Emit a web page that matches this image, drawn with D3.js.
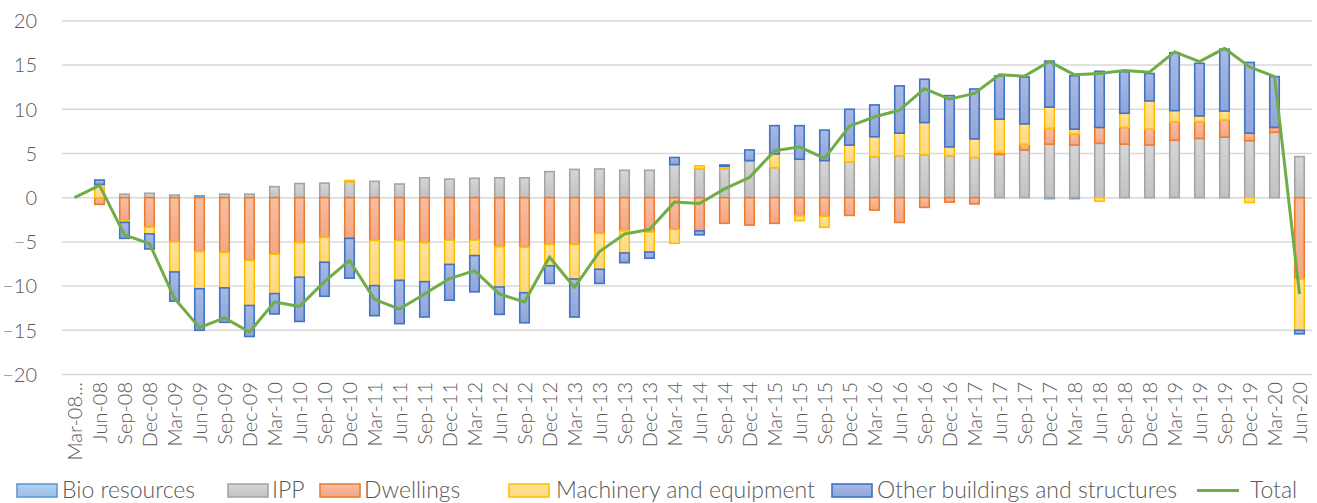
<!DOCTYPE html>
<html><head><meta charset="utf-8">
<script src="https://cdnjs.cloudflare.com/ajax/libs/d3/7.8.5/d3.min.js"></script>
<style>
html,body{margin:0;padding:0;background:#fff;}
svg{display:block;}
text{font-family:Lato,"Open Sans",sans-serif;fill:#595959;font-weight:300;}
</style></head>
<body>
<svg id="chart" width="1317" height="503"></svg>
<script>
const categories = ["Mar-08...","Jun-08","Sep-08","Dec-08","Mar-09","Jun-09","Sep-09","Dec-09","Mar-10","Jun-10","Sep-10","Dec-10","Mar-11","Jun-11","Sep-11","Dec-11","Mar-12","Jun-12","Sep-12","Dec-12","Mar-13","Jun-13","Sep-13","Dec-13","Mar-14","Jun-14","Sep-14","Dec-14","Mar-15","Jun-15","Sep-15","Dec-15","Mar-16","Jun-16","Sep-16","Dec-16","Mar-17","Jun-17","Sep-17","Dec-17","Mar-18","Jun-18","Sep-18","Dec-18","Mar-19","Jun-19","Sep-19","Dec-19","Mar-20","Jun-20"];

const bioResources = [0,0,0,0,0,0.2,0,0,0,0,0,0,0,0,0,0,0,0,0,0,0,0,0,0,0,0,0,0,0,0,0,0,0,0,0,0,0,0,0,-0.1,-0.1,0,0,0,0,0,0,0,0,0];
const ipp = [0,0,0.4,0.5,0.3,0,0.4,0.4,1.25,1.6,1.65,1.8,1.85,1.55,2.25,2.1,2.2,2.25,2.25,2.95,3.2,3.25,3.1,3.1,3.75,3.25,3.3,4.15,3.4,4.35,4.2,4.05,4.65,4.75,4.85,4.75,4.55,4.9,5.4,6.05,5.95,6.15,6.05,5.95,6.5,6.7,6.85,6.45,7.4,4.65];
const dwellings = [0,-0.75,-2.6,-3.35,-5.0,-6.1,-6.2,-7.1,-6.4,-5.1,-4.5,-4.6,-4.85,-4.85,-5.1,-4.8,-4.8,-5.55,-5.6,-5.3,-5.3,-4.05,-3.75,-3.9,-3.6,-3.75,-2.9,-3.1,-2.9,-2.05,-2.1,-2.0,-1.4,-2.8,-1.1,-0.5,-0.7,0.23,0.65,1.8,1.25,1.8,1.9,1.8,2.1,1.9,1.95,0.85,0.55,-9.2];
const machinery = [0,1.5,-0.2,-0.75,-3.4,-4.2,-4.0,-5.1,-4.45,-3.9,-2.8,0.15,-5.1,-4.5,-4.4,-2.75,-1.75,-4.55,-5.15,-2.4,-3.9,-4.05,-2.5,-2.25,-1.55,0.35,0.25,0.05,1.55,-0.55,-1.25,1.9,2.25,2.55,3.65,1.0,2.1,3.75,2.3,2.4,0.55,-0.4,1.6,3.2,1.25,0.65,1.0,-0.55,0,-5.8];
const otherBuildings = [0,0.5,-1.8,-1.7,-3.3,-4.7,-3.9,-3.5,-2.3,-5.0,-3.85,-4.5,-3.4,-4.9,-4.0,-4.05,-4.1,-3.1,-3.4,-2.0,-4.3,-1.6,-1.1,-0.7,0.8,-0.45,0.15,1.2,3.2,3.8,3.45,4.05,3.6,5.35,4.9,5.8,5.65,4.9,5.3,5.2,6.05,6.35,4.7,3.1,6.55,5.95,7.0,8.0,5.75,-0.4];
const total = [0,1.4,-4.2,-5.2,-11.4,-14.7,-13.6,-15.2,-11.8,-12.3,-9.5,-7.1,-11.5,-12.6,-10.9,-9.15,-8.25,-10.9,-11.8,-6.7,-10.15,-6.1,-4.1,-3.6,-0.5,-0.65,1.0,2.3,5.3,5.75,4.45,8.1,9.15,9.9,12.35,11.15,11.8,13.9,13.75,15.4,13.9,14.05,14.4,14.2,16.5,15.4,16.9,14.8,13.7,-10.9];
const yTicks = [-20,-15,-10,-5,0,5,10,15,20];

const seriesNames = ["Bio resources","IPP","Dwellings","Machinery and equipment","Other buildings and structures"];
const seriesValues = [bioResources, ipp, dwellings, machinery, otherBuildings];
const styles = [
  {stroke:"#5B9BD5", top:"#B4D0EE", bot:"#9DC0E6"},
  {stroke:"#A5A5A5", top:"#D6D6D6", bot:"#C2C2C2"},
  {stroke:"#ED7D31", top:"#F8BEA2", bot:"#F4A684"},
  {stroke:"#FFC000", top:"#FFE3A0", bot:"#FFD77D"},
  {stroke:"#4472C4", top:"#A8B9E4", bot:"#8EA5DA"}
];

const svg = d3.select("#chart");
const defs = svg.append("defs");
styles.forEach((s,i)=>{
  const g = defs.append("linearGradient").attr("id","g"+i).attr("x1",0).attr("y1",0).attr("x2",0).attr("y2",1);
  g.append("stop").attr("offset","0%").attr("stop-color",s.top);
  g.append("stop").attr("offset","100%").attr("stop-color",s.bot);
});

const x = d3.scaleBand().domain(categories).range([62,1312]).paddingInner(0.56).paddingOuter(0.28);
const y = d3.scaleLinear().domain([-20,20]).range([374.5,20.9]);

// gridlines
svg.append("g").selectAll("line").data(yTicks).join("line")
  .attr("x1",62).attr("x2",1312)
  .attr("y1",d=>y(d)).attr("y2",d=>y(d))
  .attr("stroke","#D9D9D9").attr("stroke-width",1.5);

// y axis labels
const yAxis = d3.axisLeft(y).tickValues(yTicks).tickSize(0).tickPadding(0);
const ya = svg.append("g").attr("transform","translate(37,0)").call(yAxis);
ya.select(".domain").remove();
ya.selectAll("text").style("font-size","20px").style("font-family","Lato,sans-serif").style("font-weight","300").attr("fill","#595959").attr("dy","0.34em");

// stacked bars
const rows = categories.map((c,i)=>{const o={cat:c}; seriesNames.forEach((n,k)=>o[n]=seriesValues[k][i]); return o;});
const stack = d3.stack().keys(seriesNames).offset(d3.stackOffsetDiverging);
const stacked = stack(rows);
const bw = x.bandwidth();
stacked.forEach((layer,k)=>{
  svg.append("g").selectAll("rect").data(layer.filter(d=>Math.abs(d[1]-d[0])>1e-9)).join("rect")
    .attr("x",d=>x(d.data.cat)+0.75)
    .attr("width",bw-1.5)
    .attr("y",d=>y(Math.max(d[0],d[1])))
    .attr("height",d=>Math.abs(y(d[0])-y(d[1])))
    .attr("fill","url(#g"+k+")")
    .attr("stroke",styles[k].stroke).attr("stroke-width",1.6);
});

// total line
const line = d3.line().x((d,i)=>x(categories[i])+bw/2).y(d=>y(d));
svg.append("path").datum(total).attr("d",line)
  .attr("fill","none").attr("stroke","#70AD47").attr("stroke-width",3).attr("stroke-linejoin","round");

// x labels
const xAxis = d3.axisBottom(x).tickSize(0).tickPadding(0);
const xa = svg.append("g").attr("transform","translate(0,382)").call(xAxis);
xa.select(".domain").remove();
xa.selectAll("text").attr("transform","rotate(-90)").attr("text-anchor","end")
  .attr("x",0).attr("y",0).attr("dy","0.36em")
  .style("font-size","20px").style("font-family","Lato,sans-serif").style("font-weight","300").attr("fill","#595959");

// legend
const legendItems = [
  {name:"Bio resources", k:0, sx:17, tx:62},
  {name:"IPP", k:1, sx:228, tx:272},
  {name:"Dwellings", k:2, sx:320, tx:364},
  {name:"Machinery and equipment", k:3, sx:509, tx:556},
  {name:"Other buildings and structures", k:4, sx:832, tx:877},
  {name:"Total", k:5, sx:1197, tx:1250}
];
const lg = svg.append("g");
legendItems.forEach(it=>{
  if(it.k<5){
    lg.append("rect").attr("x",it.sx).attr("y",484).attr("width",40).attr("height",13)
      .attr("fill","url(#g"+it.k+")").attr("stroke",styles[it.k].stroke).attr("stroke-width",1.6);
  } else {
    lg.append("line").attr("x1",it.sx).attr("x2",it.sx+42).attr("y1",490.5).attr("y2",490.5)
      .attr("stroke","#70AD47").attr("stroke-width",3);
  }
  lg.append("text").attr("x",it.tx).attr("y",498).text(it.name)
    .style("font-size","23px").attr("fill","#595959");
});
</script>
</body></html>
